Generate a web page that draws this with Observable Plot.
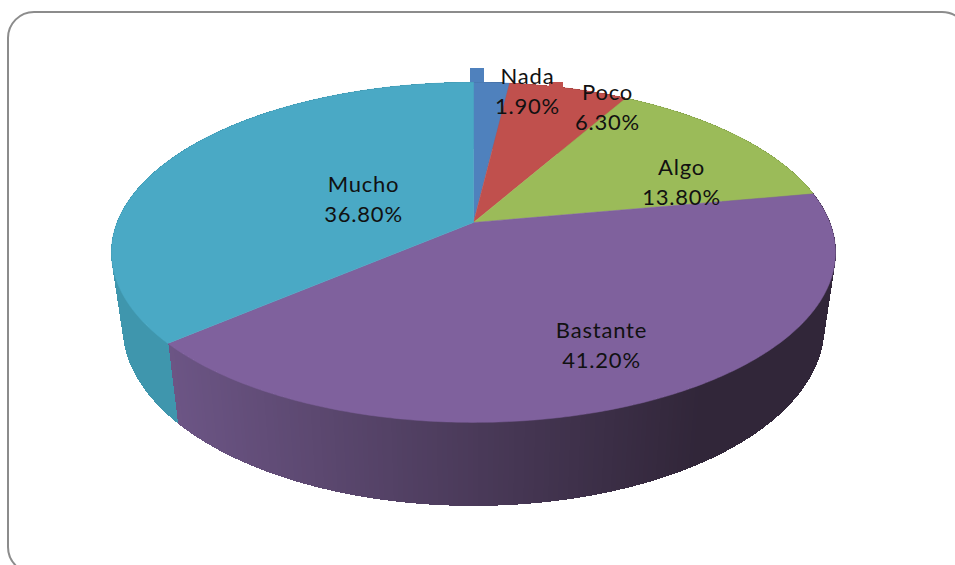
<!DOCTYPE html>
<html>
<head>
<meta charset="utf-8">
<script src="https://cdn.jsdelivr.net/npm/d3@7"></script>
<script src="https://cdn.jsdelivr.net/npm/@observablehq/plot@0.6"></script>
<style>
html,body{margin:0;padding:0;background:#fff;overflow:hidden}
</style>
</head>
<body>
<div id="chart"></div>
<script>
const categories = ["Nada", "Poco", "Algo", "Bastante", "Mucho"];
const percentages = [1.9, 6.3, 13.8, 41.2, 36.8];
const faceColors = ["#4f81bd", "#c0504d", "#9bbb59", "#7f619d", "#4aa9c5"];
const sideLeftColors = ["#3f6797", "#9a403e", "#7c9647", "#6c5585", "#3f96ad"];
const sideRightColors = ["#3f6797", "#9a403e", "#7c9647", "#312639", "#3f90a6"];

// Layout of the perspective disc (pixel space of the picture)
const W = 955, H = 565;
const cx = 473, apexY = 222, X = 356.3, Y = 164.7, c = 0.176, warp = 0.048;
const lowX = 345, lowY = 173, lowApexY = 295;
const labelCenters = [[527, 89], [607, 105], [681, 180], [601, 343], [363, 197]];
const keySquares = [[470, 68], [549, 82], [618, 158], null, [300, 178]];
const keySize = 14;

const project = (a) => {
  const t = a + warp * Math.sin(a / 2) ** 4;
  const u = Math.sin(t), v = Math.cos(t), d = 1 + c * v;
  return {
    tx: cx + X * u / d, ty: apexY - Y * v / d,
    bx: cx + lowX * u / d, by: lowApexY - lowY * v / d
  };
};

const total = d3.sum(percentages);
let acc = 0;
const slices = categories.map((name, i) => {
  const a0 = acc / total * 2 * Math.PI;
  acc += percentages[i];
  return {name, i, a0, a1: acc / total * 2 * Math.PI};
});

const leftX = project(slices[3].a1).tx;
const side = [];
const facePts = [];
for (const s of slices) {
  const n = Math.max(6, Math.ceil((s.a1 - s.a0) / 0.012));
  const mix = d3.interpolateRgb(sideLeftColors[s.i], sideRightColors[s.i]);
  for (let k = 0; k < n; k++) {
    const p = project(s.a0 + (s.a1 - s.a0) * k / n);
    const q = project(s.a0 + (s.a1 - s.a0) * (k + 1) / n);
    const f = Math.min(1, Math.max(0, ((p.tx + q.tx) / 2 - leftX) / (700 - leftX)));
    const color = mix(f);
    const id = s.i * 10000 + k;
    side.push({id, color, x: p.tx, y: p.ty}, {id, color, x: q.tx, y: q.ty},
              {id, color, x: q.bx, y: q.by}, {id, color, x: p.bx, y: p.by});
  }
  facePts.push({id: s.i, color: faceColors[s.i], x: cx, y: apexY});
  for (let k = 0; k <= n; k++) {
    const p = project(s.a0 + (s.a1 - s.a0) * k / n);
    facePts.push({id: s.i, color: faceColors[s.i], x: p.tx, y: p.ty});
  }
  facePts.push({id: s.i, color: faceColors[s.i], x: cx, y: apexY});
}

const labels = categories.map((name, i) => ({
  text: `${name}\n${percentages[i].toFixed(2)}%`,
  x: labelCenters[i][0], y: labelCenters[i][1]
}));
const keys = categories.map((name, i) => keySquares[i] && ({
  x1: keySquares[i][0], x2: keySquares[i][0] + keySize,
  y1: keySquares[i][1], y2: keySquares[i][1] + keySize, color: faceColors[i]
})).filter(Boolean);

const chart = Plot.plot({
  width: W, height: H,
  margin: 0,
  style: {background: "#fff", overflow: "hidden", letterSpacing: "0.8px"},
  x: {domain: [0, W], range: [0, W], axis: null},
  y: {domain: [0, H], range: [0, H], axis: null},
  color: {type: "identity"},
  marks: [
    Plot.rect([{x1: 8, x2: 968, y1: 12, y2: 573}], {
      x1: "x1", x2: "x2", y1: "y1", y2: "y2", rx: 26, ry: 26,
      fill: "#fff", stroke: "#8c8c8c", strokeWidth: 2
    }),
    Plot.line(side, {x: "x", y: "y", z: "id", fill: "color", stroke: "color", strokeWidth: 1, curve: "linear-closed", shapeRendering: "crispEdges"}),
    Plot.line(facePts, {x: "x", y: "y", z: "id", fill: "color", stroke: "color", strokeWidth: 0.5, curve: "linear"}),
    Plot.rect(keys, {x1: "x1", x2: "x2", y1: "y1", y2: "y2", fill: "color"}),
    Plot.text(labels, {
      x: "x", y: "y", text: "text", textAnchor: "middle", lineHeight: 1.38,
      fontFamily: "Lato", fontSize: 22, fill: "#111"
    })
  ]
});
document.getElementById("chart").append(chart);
</script>
</body>
</html>
